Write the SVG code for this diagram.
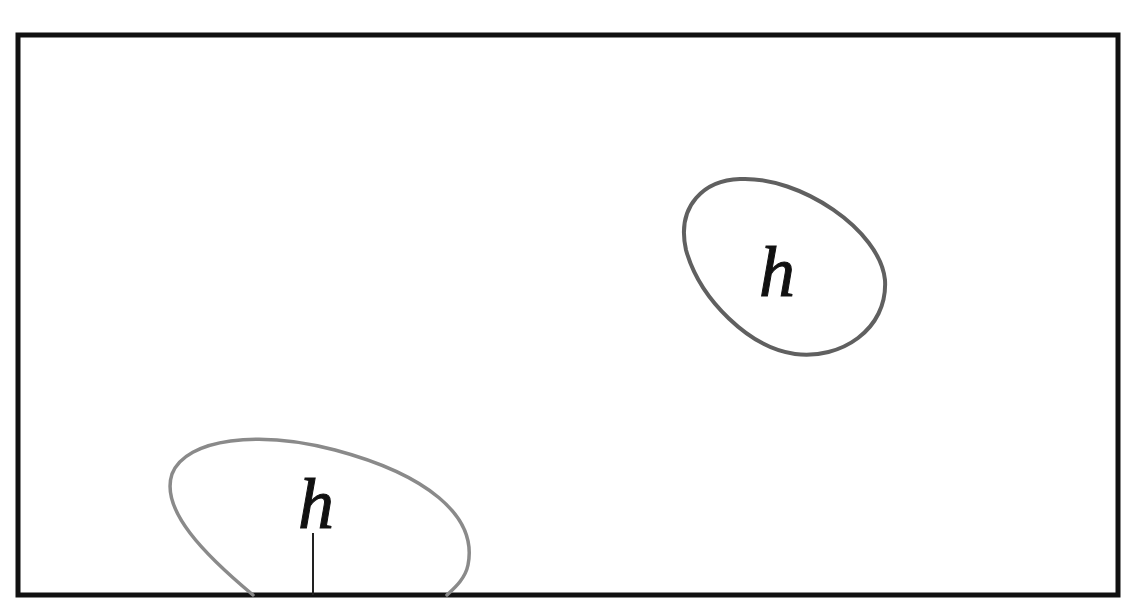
<svg xmlns="http://www.w3.org/2000/svg" width="1131" height="610" viewBox="0 0 1131 610">
<style>
.frame{fill:none;stroke:#111;stroke-width:5}
.loop{fill:none;stroke-linecap:round}
.lbl{font-family:"Liberation Serif","DejaVu Serif",serif;font-style:italic;font-size:72px;fill:#111;stroke:#111;stroke-width:1}
.tick{stroke:#222;stroke-width:2}
</style>
<rect width="1131" height="610" fill="#fff"/>
<g id="frame"><rect class="frame" x="18" y="35" width="1100" height="560"/></g>
<g id="loop-top">
<path class="loop" stroke="#606060" stroke-width="4" d="M740,179 C800,176 880,230 885,280 C888,330 840,360 795,354 C750,348 700,300 686,250 C676,205 705,180 740,179 Z"/>
<text class="lbl" x="777" y="296" text-anchor="middle">h</text>
</g>
<g id="loop-bottom">
<path class="loop" stroke="#8a8a8a" stroke-width="3.5" d="M253,595 C205,555 160,510 172,474 C186,438 260,430 335,450 C425,474 478,515 468,565 C465,580 452,590 447,595"/>
<text class="lbl" x="316" y="528" text-anchor="middle">h</text>
</g>
<g id="connectors"><line class="tick" x1="313" y1="533" x2="313" y2="595"/></g>
</svg>
